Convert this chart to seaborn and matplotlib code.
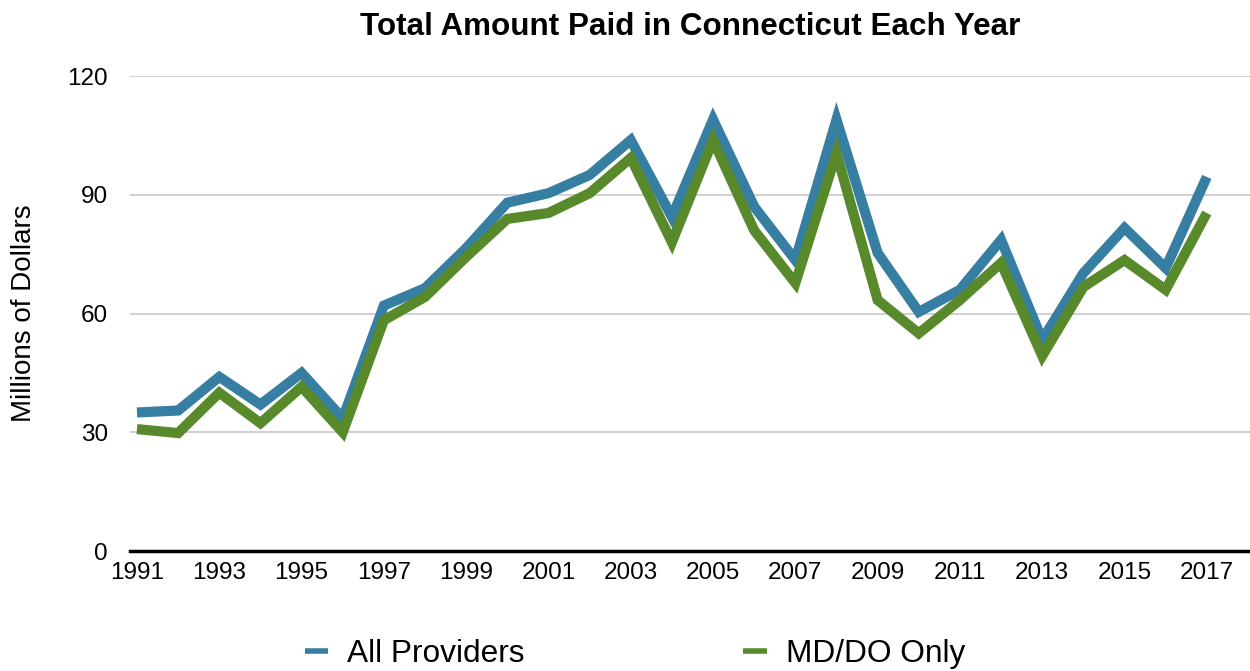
import pandas as pd
import matplotlib
matplotlib.use('Agg')
import matplotlib.pyplot as plt
import seaborn as sns

# Values (millions of dollars)
years = list(range(1991, 2018))
all_providers = [35, 35.5, 44, 37, 45, 33.5, 62, 66.4, 76.5, 88, 90.4, 95, 103.8,
                 84.4, 109, 87, 73.5, 109, 75.3, 60.4, 66, 78.6, 53.3, 70.2, 81.6,
                 71.5, 94.5]
md_do_only = [30.8, 29.8, 40, 32.3, 41.5, 30, 58.3, 64.2, 74.3, 83.9, 85.4, 90.4, 99.3,
              78, 103.8, 81, 67.7, 100.5, 63.4, 55, 63.4, 72.8, 49.3, 66.7, 73.5,
              66, 85.4]
series_names = ['All Providers', 'MD/DO Only']
colors = ['#367ea2', '#58892b']
x_ticks = list(range(1991, 2018, 2))
y_ticks = [0, 30, 60, 90, 120]

df = pd.DataFrame({
    'Year': years * 2,
    'Amount': all_providers + md_do_only,
    'Series': [series_names[0]] * len(years) + [series_names[1]] * len(years),
})

sns.set_style('white')
plt.rcParams['font.family'] = ['Liberation Sans', 'DejaVu Sans']
plt.rcParams['text.color'] = 'black'
plt.rcParams['axes.labelcolor'] = 'black'
plt.rcParams['xtick.color'] = 'black'
plt.rcParams['ytick.color'] = 'black'

fig = plt.figure(figsize=(12.5, 6.71), dpi=100)
ax = fig.add_axes([0.104, 0.1788, 0.896, 0.7079])

sns.lineplot(data=df, x='Year', y='Amount', hue='Series', palette=colors,
             linewidth=7.3, ax=ax, legend=True)
for line in ax.get_lines():
    line.set_clip_on(False)
    line.set_solid_joinstyle('miter')
    line.set_solid_capstyle('butt')

ax.set_xlim(1990.83, 2018.05)
ax.set_ylim(0, 120)
ax.set_xticks(x_ticks)
ax.set_yticks(y_ticks)
ax.tick_params(axis='both', length=0, labelsize=17.5)
ax.tick_params(axis='y', pad=16)
ax.tick_params(axis='x', pad=8)
ax.grid(axis='y', color='#c8c8c8', linewidth=1.2)
ax.grid(axis='x', visible=False)
ax.set_axisbelow(True)
for side in ['top', 'right', 'left']:
    ax.spines[side].set_visible(False)
ax.spines['bottom'].set_color('black')
ax.spines['bottom'].set_linewidth(2.5)
ax.spines['bottom'].set_zorder(5)

ax.set_xlabel('')
ax.set_ylabel('Millions of Dollars', fontsize=20)
ax.yaxis.set_label_coords(-0.083, 0.5)

fig.text(0.552, 0.960, 'Total Amount Paid in Connecticut Each Year',
         ha='center', va='center', fontsize=22.6, fontweight='bold')

handles, labels = ax.get_legend_handles_labels()
ax.get_legend().remove()
leg = fig.legend(handles, labels, loc='center', bbox_to_anchor=(0.508, 0.025),
                 ncol=2, frameon=False, fontsize=22.8, handlelength=0.75,
                 handletextpad=0.6, columnspacing=6.9)
for h in leg.get_lines():
    h.set_linewidth(4)

fig.savefig('out.png', dpi=100)
